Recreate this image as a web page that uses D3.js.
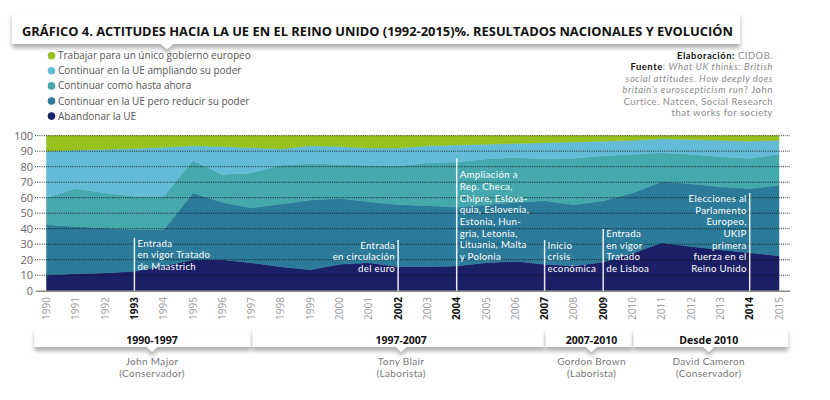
<!DOCTYPE html>
<html><head><meta charset="utf-8">
<script src="https://cdn.jsdelivr.net/npm/d3@7"></script>
<style>
html,body{margin:0;padding:0;background:#fff;}
svg{display:block;font-family:"Open Sans",sans-serif;}
</style></head>
<body><svg id="c" width="830" height="400"></svg>
<script>
// ---------------- DATA ----------------
const years = [1990,1991,1992,1993,1994,1995,1996,1997,1998,1999,2000,2001,2002,2003,2004,2005,2006,2007,2008,2009,2010,2011,2012,2013,2014,2015];
const seriesNames = ["Abandonar la UE","Continuar en la UE pero reducir su poder","Continuar como hasta ahora","Continuar en la UE ampliando su poder","Trabajar para un único gobierno europeo"];
const abandonar  = [10,11,11.5,12.5,16,20,20,18,15.5,13.5,17,18,15.5,15.5,16,18,19,17,16,18.5,24,31,28.5,26.5,24.5,22.5];
const reducir    = [32.5,30.5,29,27,23.5,43,37,35.5,40.5,45,42.5,39.5,40,39.5,38,37.5,38,41,39.5,39.5,39,39.5,40.5,40.5,41.5,45.5];
const comoAhora  = [17.5,24.5,22.5,21.5,21.5,21,18,22.5,25,23.5,22,23.5,25,27.5,29,29.5,29,27,30,29,25,18.5,19,19.5,19.5,20];
const ampliando  = [30,24.8,28.2,30.8,31.5,9.5,18,16.3,10.5,11.5,11.5,11,11.5,11,11,9.5,9,10.5,10.5,9.5,9,9,9.5,10.5,11,9];
const unico      = [10,9.2,8.8,8.2,7.5,6.5,7,7.7,8.5,6.5,7,8,8,6.5,6,5.5,5,4.5,4,3.5,3,2,2.5,3,3.5,3];
const yTicks = [0,10,20,30,40,50,60,70,80,90,100];
const keyYears = [1993,2002,2004,2007,2009,2014];
const annotations = [
  {year:1993, lines:["Entrada","en vigor Tratado","de Maastrich"]},
  {year:2002, lines:["Entrada","en circulación","del euro"]},
  {year:2004, lines:["Ampliación a","Rep. Checa,","Chipre, Eslova-","quia, Eslovenia,","Estonia, Hun-","gria, Letonia,","Lituania, Malta","y Polonia"]},
  {year:2007, lines:["Inicio","crisis","económica"]},
  {year:2009, lines:["Entrada","en vigor","Tratado","de Lisboa"]},
  {year:2014, lines:["Elecciones al","Parlamento","Europeo,","UKIP","primera","fuerza en el","Reino Unido"]}
];
const periods = [
  {from:1990, to:1997, label:"1990-1997", leader:"John Major", party:"(Conservador)"},
  {from:1997, to:2007, label:"1997-2007", leader:"Tony Blair", party:"(Laborista)"},
  {from:2007, to:2010, label:"2007-2010", leader:"Gordon Brown", party:"(Laborista)"},
  {from:2010, to:2015, label:"Desde 2010", leader:"David Cameron", party:"(Conservador)"}
];
const title = "GRÁFICO 4. ACTITUDES HACIA LA UE EN EL REINO UNIDO (1992-2015)%. RESULTADOS NACIONALES Y EVOLUCIÓN";

// ---------------- LAYOUT / STYLE ----------------
const colors = ["#1b1f66","#2c7b9b","#45a8ad","#64bbd8","#97c11c"];
const annoLayout = {
  1993:{side:"left",top:34,base:270},
  2002:{side:"right",top:32.7,base:272},
  2004:{side:"left",top:85.5,base:260},
  2007:{side:"left",top:32.7,base:272},
  2009:{side:"left",top:39.8,base:272},
  2014:{side:"right",top:63,base:272}
};
const svg = d3.select("#c");
const x = d3.scaleLinear().domain([1990,2015]).range([46.5,779]);
const y = d3.scaleLinear().domain([0,100]).range([290.7,135.7]);

const defs = svg.append("defs");
const f = defs.append("filter").attr("id","sh").attr("x","-10%").attr("y","-60%").attr("width","120%").attr("height","220%");
f.append("feDropShadow").attr("dx",0).attr("dy",4).attr("stdDeviation",2).attr("flood-color","#000").attr("flood-opacity",0.32);

// title box
svg.append("path").attr("d","M12,12H740V44H173L167,49L161,44H12Z").attr("fill","#fff").attr("filter","url(#sh)");
svg.append("text").attr("x",22).attr("y",36).attr("font-size",13).attr("font-weight","bold").attr("fill","#111")
  .attr("textLength",711).attr("lengthAdjust","spacingAndGlyphs").text(title);

// legend (top to bottom: reverse order)
const legendOrder = [4,3,2,1,0];
legendOrder.forEach((si,i)=>{
  const g = svg.append("g").attr("transform",`translate(0,${55.7+i*15.1})`);
  g.append("circle").attr("cx",51.5).attr("cy",0).attr("r",3.8).attr("fill",colors[si]);
  g.append("text").attr("x",58).attr("y",3.5).attr("font-size",10).attr("fill","#555").text(seriesNames[si]);
});

// source
const src = svg.append("text").attr("text-anchor","end").attr("font-family","Lato, sans-serif")
  .attr("font-size",9.4).attr("letter-spacing",0.55).attr("fill","#8a8a8a");
const srcLines = [
  [["Elaboración:","b"],[" CIDOB.","n"]],
  [["Fuente","b"],[": ","n"],["What UK thinks: British","i"]],
  [["social attitudes. How deeply does","i"]],
  [["britain’s euroscepticism run","i"],["? John","n"]],
  [["Curtice. Natcen, Social Research","n"]],
  [["that works for society","n"]]
];
srcLines.forEach((ln,i)=>{
  ln.forEach((seg,j)=>{
    const t = src.append("tspan").text(seg[0]);
    if(j===0) t.attr("x",773).attr("y",59+i*11.4);
    if(seg[1]==="b") t.attr("font-weight","bold").attr("fill","#111");
    if(seg[1]==="i") t.attr("font-style","italic");
  });
});

// stacked areas
const table = years.map((yr,i)=>({year:yr, s0:abandonar[i], s1:reducir[i], s2:comoAhora[i], s3:ampliando[i], s4:unico[i]}));
const stack = d3.stack().keys(["s0","s1","s2","s3","s4"])(table);
const area = d3.area().x(d=>x(d.data.year)).y0(d=>y(d[0])).y1(d=>y(d[1])).curve(d3.curveLinear);
svg.append("g").selectAll("path").data(stack).join("path")
  .attr("d",area).attr("fill",(d,i)=>colors[i]).attr("stroke",(d,i)=>colors[i]).attr("stroke-width",0.5);

// grid lines (dotted) and y labels
yTicks.forEach(v=>{
  if(v>0) svg.append("line").attr("x1",35).attr("x2",790).attr("y1",y(v)).attr("y2",y(v))
    .attr("stroke","#111").attr("stroke-width",0.9).attr("stroke-dasharray","1,1.2");
  svg.append("text").attr("x",33).attr("y",y(v)+4).attr("text-anchor","end").attr("font-size",11).attr("fill","#666").text(v);
});
svg.append("line").attr("x1",36).attr("x2",790).attr("y1",y(0)+0.5).attr("y2",y(0)+0.5).attr("stroke","#8c8c8c").attr("stroke-width",1.5);

// x axis labels
years.forEach(yr=>{
  const key = keyYears.includes(yr);
  svg.append("text").attr("transform",`translate(${x(yr)+3.5},297) rotate(-90)`).attr("text-anchor","end")
    .attr("font-size",10).attr("font-weight",key?"bold":"normal").attr("fill",key?"#111":"#9a9a9a").text(yr);
});

// annotations
annotations.forEach(a=>{
  const L = annoLayout[a.year];
  const xx = x(a.year);
  svg.append("line").attr("x1",xx).attr("x2",xx).attr("y1",y(L.top)).attr("y2",y(0)).attr("stroke","#fff").attr("stroke-width",1.5).attr("stroke-opacity",0.9);
  const t = svg.append("text").attr("font-family","Lato, sans-serif").attr("font-size",9.7).attr("letter-spacing",0.3)
    .attr("fill","#fff").attr("text-anchor",L.side==="left"?"start":"end");
  const n = a.lines.length;
  a.lines.forEach((s,i)=>{
    t.append("tspan").attr("x",L.side==="left"?xx+3:xx-3).attr("y",L.base-(n-1-i)*11.7).text(s);
  });
});

// periods timeline
periods.forEach((p,i)=>{
  const x0 = i===0 ? x(p.from)-12 : x(p.from)+1;
  const x1 = i===periods.length-1 ? x(p.to)+9 : x(p.to);
  const cx = (x(p.from)+x(p.to))/2 + 3;
  svg.append("path").attr("d",`M${x0},329H${x1}V347H${cx+5}L${cx},352L${cx-5},347H${x0}Z`).attr("fill","#fff").attr("filter","url(#sh)");
  svg.append("text").attr("x",cx).attr("y",344).attr("text-anchor","middle").attr("font-size",10.5).attr("font-weight","bold").attr("fill","#111").text(p.label);
  svg.append("text").attr("x",cx).attr("y",364.5).attr("text-anchor","middle").attr("font-family","Lato, sans-serif").attr("font-size",10).attr("letter-spacing",0.35).attr("fill","#777").text(p.leader);
  svg.append("text").attr("x",cx).attr("y",376.5).attr("text-anchor","middle").attr("font-family","Lato, sans-serif").attr("font-size",10).attr("letter-spacing",0.35).attr("fill","#777").text(p.party);
});
</script></body></html>
